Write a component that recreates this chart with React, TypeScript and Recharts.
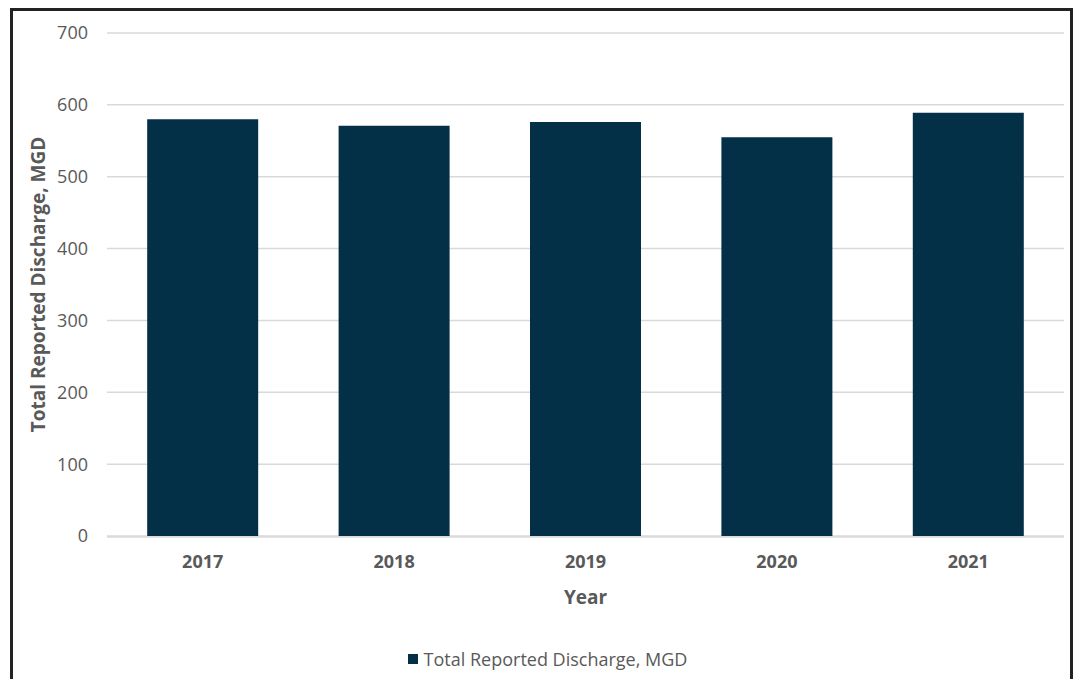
import { BarChart, Bar, XAxis, YAxis, CartesianGrid, Legend } from 'recharts';

const years = ['2017', '2018', '2019', '2020', '2021'];
const discharge = [580, 571, 576, 555, 589];
const yTicks = [0, 100, 200, 300, 400, 500, 600, 700];
const edgeTicks = [0, 1, 2, 3, 4, 5];

const data = years.map((year, i) => ({ year, discharge: discharge[i] }));

const FONT = '"Open Sans", sans-serif';
const GREY = '#595959';
const GRID = '#D9D9D9';
const NAVY = '#032F47';

function LegendBox({ payload }: any) {
  return (
    <div style={{ textAlign: 'center', fontFamily: FONT }}>
      {(payload || []).map((item: any) => (
        <span key={item.value} style={{ display: 'inline-flex', alignItems: 'center' }}>
          <span style={{ width: 10, height: 10, background: item.color, marginRight: 6 }} />
          <span style={{ color: GREY, fontSize: 18 }}>{item.value}</span>
        </span>
      ))}
    </div>
  );
}

export default function App() {
  return (
    <div
      style={{
        position: 'absolute',
        left: 0,
        top: 0,
        width: 1075,
        height: 679,
        overflow: 'hidden',
        background: '#fff',
        fontFamily: FONT,
      }}
    >
      <div
        style={{
          position: 'absolute',
          left: 10,
          top: 8,
          width: 1057,
          height: 720,
          border: '3px solid #222',
        }}
      />
      <div style={{ position: 'absolute', left: 0, top: 0 }}>
        <BarChart
          width={1075}
          height={679}
          data={data}
          margin={{ top: 33, right: 11, left: 20, bottom: 141 }}
          barCategoryGap="21%"
        >
          <CartesianGrid vertical={false} stroke={GRID} strokeWidth={1.5} />
          <XAxis
            xAxisId="edges"
            type="number"
            domain={[0, 5]}
            ticks={edgeTicks}
            allowDataOverflow
            height={1}
            tick={false}
            tickSize={6}
            stroke={GRID}
            axisLine={{ stroke: GRID, strokeWidth: 1.5 }}
            tickLine={{ stroke: GRID, strokeWidth: 1.5 }}
          />
          <XAxis
            xAxisId="cat"
            dataKey="year"
            height={1}
            axisLine={false}
            tickLine={false}
            tickSize={0}
            tickMargin={19}
            tick={{ fill: GREY, fontSize: 18, fontWeight: 700, fontFamily: FONT }}
            label={{
              value: 'Year',
              position: 'bottom',
              offset: 54,
              fill: GREY,
              fontSize: 19,
              fontWeight: 700,
              fontFamily: FONT,
            }}
          />
          <YAxis
            width={87}
            domain={[0, 700]}
            ticks={yTicks}
            axisLine={false}
            tickLine={false}
            tickSize={0}
            tickMargin={19}
            tick={{ fill: GREY, fontSize: 18, fontFamily: FONT }}
            label={{
              value: 'Total Reported Discharge, MGD',
              angle: -90,
              position: 'insideLeft',
              offset: 18,
              fill: GREY,
              fontSize: 19,
              fontWeight: 700,
              fontFamily: FONT,
              style: { textAnchor: 'middle' },
            }}
          />
          <Legend
            layout="vertical"
            align="center"
            verticalAlign="middle"
            wrapperStyle={{ left: 20, top: 647, width: 1055 }}
            content={<LegendBox />}
          />
          <Bar
            xAxisId="cat"
            dataKey="discharge"
            name="Total Reported Discharge, MGD"
            fill={NAVY}
            isAnimationActive={false}
          />
        </BarChart>
      </div>
    </div>
  );
}
